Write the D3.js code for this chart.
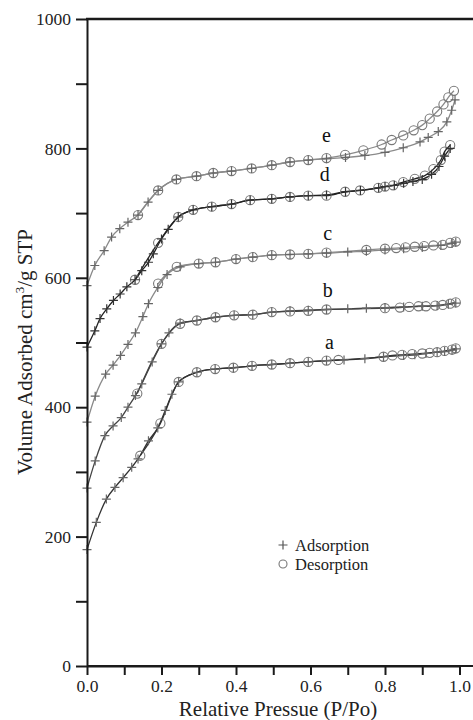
<!DOCTYPE html>
<html>
<head>
<meta charset="utf-8">
<script src="https://cdn.jsdelivr.net/npm/d3@7/dist/d3.min.js"></script>
<style>
  html, body { margin: 0; padding: 0; background: #fff; }
  svg { display: block; }
  svg text { font-family: "Liberation Serif", "Times New Roman", serif; }
</style>
</head>
<body>
<svg width="473" height="720" font-family="Liberation Serif, serif"></svg>
<script>
// [P/Po, volume] pairs
var aAds = [[0,180],[0.025,222],[0.052,258],[0.075,276],[0.097,291],[0.12,307],[0.137,320],[0.165,348],[0.19,368],[0.21,395],[0.228,420],[0.246,439],[0.295,454],[0.344,459],[0.393,461],[0.443,464],[0.496,466],[0.545,468],[0.594,470],[0.643,472],[0.69,473],[0.746,475],[0.796,478],[0.85,480],[0.88,481],[0.91,483],[0.94,485],[0.96,486],[0.98,488],[0.99,490]];
var aDes = [[0.99,491],[0.98,489],[0.96,487],[0.94,485],[0.92,484],[0.9,483],[0.873,482],[0.846,481],[0.82,480],[0.796,478],[0.675,473],[0.643,472],[0.594,470],[0.545,468],[0.496,466],[0.443,464],[0.393,461],[0.344,459],[0.295,454],[0.246,439],[0.197,375],[0.143,325]];

var bAds = [[0,275],[0.022,317],[0.048,356],[0.07,371],[0.092,384],[0.11,400],[0.13,418],[0.147,436],[0.175,470],[0.2,498],[0.22,515],[0.25,530],[0.295,534],[0.345,539],[0.395,542],[0.445,543],[0.496,547],[0.545,549],[0.594,550],[0.643,551],[0.7,552],[0.75,553],[0.8,554],[0.85,555],[0.9,556],[0.94,557],[0.97,559],[0.99,561]];
var bDes = [[0.99,562],[0.975,560],[0.955,558],[0.935,557],[0.91,556],[0.89,556],[0.865,555],[0.84,554],[0.8,553],[0.643,551],[0.594,549],[0.545,548],[0.496,547],[0.445,543],[0.395,542],[0.345,539],[0.295,534],[0.25,529],[0.2,498],[0.135,421]];

var cAds = [[0,377],[0.022,417],[0.05,451],[0.07,465],[0.09,480],[0.11,497],[0.13,515],[0.15,540],[0.165,560],[0.19,585],[0.215,605],[0.25,617],[0.3,622],[0.345,624],[0.4,629],[0.445,632],[0.496,635],[0.545,636],[0.594,637],[0.643,638],[0.7,640],[0.75,641],[0.8,643],[0.85,645],[0.9,647],[0.95,650],[0.98,653],[0.99,655]];
var cDes = [[0.99,656],[0.975,654],[0.955,651],[0.93,650],[0.905,649],[0.88,648],[0.855,647],[0.83,646],[0.8,645],[0.75,643],[0.643,639],[0.594,637],[0.545,636],[0.496,635],[0.445,632],[0.4,629],[0.345,624],[0.3,622],[0.241,617],[0.191,591]];

var dAds = [[0,493],[0.021,518],[0.035,537],[0.053,552],[0.071,565],[0.089,575],[0.107,586],[0.129,597],[0.147,611],[0.165,624],[0.178,637],[0.2,660],[0.218,675],[0.245,694],[0.285,705],[0.335,710],[0.388,714],[0.438,720],[0.496,722],[0.545,725],[0.594,727],[0.643,728],[0.694,733],[0.734,735],[0.783,739],[0.8,741],[0.825,743],[0.85,746],[0.875,749],[0.9,752],[0.925,760],[0.945,772],[0.96,788],[0.975,800]];
var dDes = [[0.975,805],[0.96,795],[0.95,782],[0.93,768],[0.907,758],[0.88,753],[0.849,748],[0.822,743],[0.8,741],[0.782,739],[0.733,735],[0.693,733],[0.643,727],[0.594,727],[0.545,725],[0.496,722],[0.438,720],[0.388,714],[0.335,710],[0.285,705],[0.245,694],[0.191,654],[0.129,597]];

var eAds = [[0,588],[0.021,619],[0.046,642],[0.066,663],[0.088,676],[0.11,686],[0.137,697],[0.164,717],[0.191,735],[0.24,752],[0.294,757],[0.339,762],[0.388,765],[0.442,769],[0.496,774],[0.545,779],[0.594,782],[0.643,784],[0.694,786],[0.746,789],[0.8,794],[0.849,801],[0.894,810],[0.916,817],[0.943,826],[0.966,841],[0.979,859],[0.988,875]];
var eDes = [[0.985,889],[0.97,879],[0.957,868],[0.94,857],[0.92,846],[0.9,836],[0.877,828],[0.849,820],[0.818,813],[0.791,806],[0.742,797],[0.693,790],[0.643,785],[0.594,782],[0.545,779],[0.496,774],[0.442,769],[0.388,765],[0.339,762],[0.294,757],[0.24,752],[0.191,735],[0.137,697]];

var curveNames = ["a","b","c","d","e"];
var curveColors = ["#333","#444","#8a8a8a","#222","#8a8a8a"];
// label anchor [P, volume] for each curve letter
var labelPos = [[0.651,490],[0.646,570],[0.646,658],[0.638,750],[0.643,810]];

var yTicks = d3.range(0, 1001, 100);
var xTicks = d3.range(0, 11).map(d => d / 10);
var legendItems = ["Adsorption", "Desorption"];

var svg = d3.select("svg");
var x = d3.scaleLinear().domain([0, 1]).range([87, 459.5]);
var y = d3.scaleLinear().domain([0, 1000]).range([666, 19]);

var series = [[aAds,aDes],[bAds,bDes],[cAds,cDes],[dAds,dDes],[eAds,eDes]];

var line = d3.line()
    .x(d => x(d[0]))
    .y(d => y(d[1]))
    .curve(d3.curveMonotoneX);

var plot = svg.append("g");

series.forEach(function(s, i){
    var col = curveColors[i];
    s.forEach(function(branch){
        var sorted = branch.slice().sort((p, q) => p[0] - q[0]);
        plot.append("path")
            .attr("d", line(sorted))
            .attr("fill", "none")
            .attr("stroke", col)
            .attr("stroke-width", 1.3);
    });
    // desorption circles
    plot.append("g").selectAll("circle")
        .data(s[1]).enter().append("circle")
        .attr("cx", d => x(d[0]))
        .attr("cy", d => y(d[1]))
        .attr("r", 4.6)
        .attr("fill", "none")
        .attr("stroke", "#777")
        .attr("stroke-width", 1.1);
    // adsorption crosses
    plot.append("g").selectAll("path")
        .data(s[0]).enter().append("path")
        .attr("d", "M-4.5,0H4.5M0,-4.5V4.5")
        .attr("transform", d => "translate(" + x(d[0]) + "," + y(d[1]) + ")")
        .attr("stroke", i == 3 ? "#333" : "#666")
        .attr("stroke-width", 1.2);
    svg.append("text")
        .attr("x", x(labelPos[i][0]))
        .attr("y", y(labelPos[i][1]))
        .attr("text-anchor", "middle")
        .attr("font-size", 20)
        .attr("fill", "#111")
        .text(curveNames[i]);
});

// axes
var yAxis = d3.axisLeft(y)
    .tickValues(yTicks)
    .tickSize(11)
    .tickSizeOuter(0)
    .tickPadding(5)
    .tickFormat(d => d % 200 == 0 ? d : "");
var gy = svg.append("g").attr("transform", "translate(" + x(0) + ",0)").call(yAxis);

var xAxis = d3.axisBottom(x)
    .tickValues(xTicks)
    .tickSize(9)
    .tickSizeOuter(0)
    .tickPadding(5)
    .tickFormat(d => Math.round(d * 10) % 2 == 0 ? d3.format(".1f")(d) : "");
var gx = svg.append("g").attr("transform", "translate(0," + y(0) + ")").call(xAxis);

[gx, gy].forEach(function(g){
    g.attr("font-family", null);
    g.selectAll("path, line").attr("stroke", "#1a1a1a").attr("stroke-width", 2);
    g.selectAll("text").attr("font-size", 17.5).attr("fill", "#222");
});

// axis lines running off the right edge, and the top frame line
svg.append("line")
    .attr("x1", x(0)).attr("x2", x(1.04))
    .attr("y1", y(0)).attr("y2", y(0))
    .attr("stroke", "#1a1a1a").attr("stroke-width", 2);
svg.append("line")
    .attr("x1", x(0) - 1).attr("x2", x(1.04))
    .attr("y1", y(1000)).attr("y2", y(1000))
    .attr("stroke", "#1a1a1a").attr("stroke-width", 2.4);

// axis titles
svg.append("text")
    .attr("x", 278).attr("y", 716)
    .attr("text-anchor", "middle")
    .attr("font-size", 21)
    .attr("fill", "#222")
    .text("Relative Pressue (P/Po)");

var yt = svg.append("text")
    .attr("transform", "translate(32,352) rotate(-90)")
    .attr("text-anchor", "middle")
    .attr("font-size", 21)
    .attr("fill", "#222");
yt.append("tspan").text("Volume Adsorbed cm");
yt.append("tspan").attr("font-size", 13).attr("dy", -8).text("3");
yt.append("tspan").attr("dy", 8).text("/g STP");

// legend
var leg = svg.append("g").attr("transform", "translate(283,545)");
legendItems.forEach(function(t, i){
    var row = leg.append("g").attr("transform", "translate(0," + (i * 19) + ")");
    if (i == 0) {
        row.append("path").attr("d", "M-4.5,0H4.5M0,-4.5V4.5")
            .attr("stroke", "#555").attr("stroke-width", 1.2);
    } else {
        row.append("circle").attr("r", 4).attr("fill", "none")
            .attr("stroke", "#777").attr("stroke-width", 1.1);
    }
    row.append("text")
        .attr("x", 12).attr("y", 5.5)
        .attr("font-size", 16.5)
        .attr("fill", "#222")
        .text(t);
});
</script>
</body>
</html>
